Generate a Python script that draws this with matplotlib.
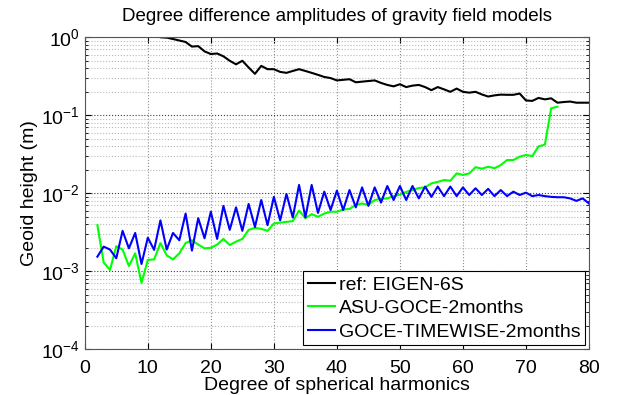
import numpy as np
import matplotlib
matplotlib.use("Agg")
import matplotlib.pyplot as plt
from matplotlib.ticker import LogLocator, FixedLocator, NullFormatter

plt.rcParams['font.family'] = ['Liberation Sans', 'DejaVu Sans']
plt.rcParams['mathtext.fontset'] = 'custom'
plt.rcParams['mathtext.rm'] = 'Liberation Sans'

# degree difference amplitudes (m)
deg_ref = np.arange(2, 81)
eigen6s = [8.0, 6.0, 4.5, 3.5, 2.8, 2.3, 1.9, 1.6, 1.35, 1.15,
           1.0, 0.99, 0.95, 0.91, 0.87, 0.76, 0.77, 0.66, 0.61, 0.62,
           0.57, 0.50, 0.45, 0.50, 0.41, 0.34, 0.43, 0.39, 0.39, 0.36,
           0.35, 0.37, 0.39, 0.37, 0.35, 0.33, 0.31, 0.30, 0.28, 0.285,
           0.29, 0.265, 0.27, 0.275, 0.28, 0.26, 0.245, 0.235, 0.25, 0.23,
           0.24, 0.245, 0.23, 0.21, 0.23, 0.215, 0.20, 0.22, 0.20, 0.195,
           0.20, 0.185, 0.174, 0.18, 0.184, 0.183, 0.183, 0.19, 0.155, 0.153,
           0.167, 0.16, 0.165, 0.145, 0.148, 0.15, 0.145, 0.145, 0.145]

deg_asu = np.arange(2, 76)
asu_goce = [0.0039, 0.0013, 0.00104, 0.0021, 0.0019, 0.00117, 0.0017, 0.00071, 0.0014, 0.00142,
            0.0023, 0.0016, 0.00142, 0.0017, 0.0023, 0.0025, 0.0022, 0.00197, 0.0020, 0.0022,
            0.0026, 0.00217, 0.0024, 0.0026, 0.0034, 0.0036, 0.0035, 0.0033, 0.0041, 0.0042,
            0.0043, 0.0044, 0.0060, 0.0048, 0.0054, 0.0050, 0.0055, 0.0058, 0.0058, 0.0062,
            0.0063, 0.0071, 0.0074, 0.0071, 0.0082, 0.0085, 0.0086, 0.0092, 0.0096, 0.0104,
            0.0110, 0.0117, 0.0119, 0.0134, 0.0140, 0.0148, 0.0145, 0.0180, 0.0172, 0.0180,
            0.0216, 0.0207, 0.0219, 0.0210, 0.0230, 0.0267, 0.0267, 0.0295, 0.0310, 0.0300,
            0.0400, 0.0420, 0.123, 0.129]

deg_tw = np.arange(2, 81)
timewise = [0.00154, 0.00207, 0.0019, 0.00147, 0.0033, 0.00197, 0.0031, 0.00124, 0.0027, 0.00188,
            0.0045, 0.0019, 0.0031, 0.0025, 0.0055, 0.00184, 0.0048, 0.00265, 0.0058, 0.0026,
            0.0069, 0.0034, 0.0066, 0.0033, 0.0073, 0.0037, 0.0082, 0.0039, 0.0090, 0.0045,
            0.0098, 0.0049, 0.0128, 0.0049, 0.0128, 0.0056, 0.0105, 0.0061, 0.0108, 0.0061,
            0.0110, 0.0066, 0.0119, 0.0069, 0.0119, 0.0076, 0.0124, 0.0082, 0.0124, 0.0082,
            0.0124, 0.0086, 0.0122, 0.0090, 0.0122, 0.0092, 0.0122, 0.0092, 0.0119, 0.0095,
            0.0116, 0.0095, 0.0114, 0.0092, 0.0110, 0.0092, 0.0105, 0.0095, 0.0102, 0.0092,
            0.0095, 0.0092, 0.0090, 0.0089, 0.0089, 0.0086, 0.0080, 0.0086, 0.0074]

x_ticks = [0, 10, 20, 30, 40, 50, 60, 70, 80]

fig = plt.figure(figsize=(6.17, 3.95), dpi=100)
ax = fig.add_axes([0.1374, 0.1157, 0.8172, 0.7899])

ax.semilogy(deg_ref, eigen6s, color='black', lw=1.5, label='ref: EIGEN-6S')
ax.semilogy(deg_asu, asu_goce, color=(0, 1, 0), lw=1.5, label='ASU-GOCE-2months')
ax.semilogy(deg_tw, timewise, color=(0, 0, 1), lw=1.5, label='GOCE-TIMEWISE-2months')

ax.set_xlim(0, 80)
ax.set_ylim(1e-4, 1)
ax.xaxis.set_major_locator(FixedLocator(x_ticks))
ax.yaxis.set_major_locator(LogLocator(base=10, numticks=10))
ax.yaxis.set_minor_locator(LogLocator(base=10, subs=np.arange(2, 10), numticks=10))
ax.yaxis.set_minor_formatter(NullFormatter())

ax.grid(True, which='major', axis='y', linestyle=':', color='#404040', lw=0.8)
ax.grid(True, which='major', axis='x', linestyle=':', color='#909090', lw=0.8)
ax.grid(True, which='minor', axis='y', linestyle=':', color='#b8b8b8', lw=0.8)
ax.tick_params(which='both', direction='in', top=True, right=True, labelsize=14)
ax.tick_params(which='major', length=4)
ax.tick_params(which='minor', length=2)
ax.tick_params(axis='x', pad=8)
for s in ax.spines.values():
    s.set_color('#555555')

ax.set_title('Degree difference amplitudes of gravity field models', fontsize=13.5, pad=12)
ax.set_xlabel('Degree of spherical harmonics', fontsize=14, labelpad=0)
ax.set_ylabel('Geoid height (m)', fontsize=14, labelpad=2)

leg = ax.legend(loc='lower right', fontsize=14, fancybox=False, framealpha=1,
                edgecolor='black', borderaxespad=0.2, handlelength=1.4,
                handletextpad=0.2, borderpad=0.25, labelspacing=0.3)
leg.get_frame().set_linewidth(0.8)

fig.savefig('out.png', dpi=100)
